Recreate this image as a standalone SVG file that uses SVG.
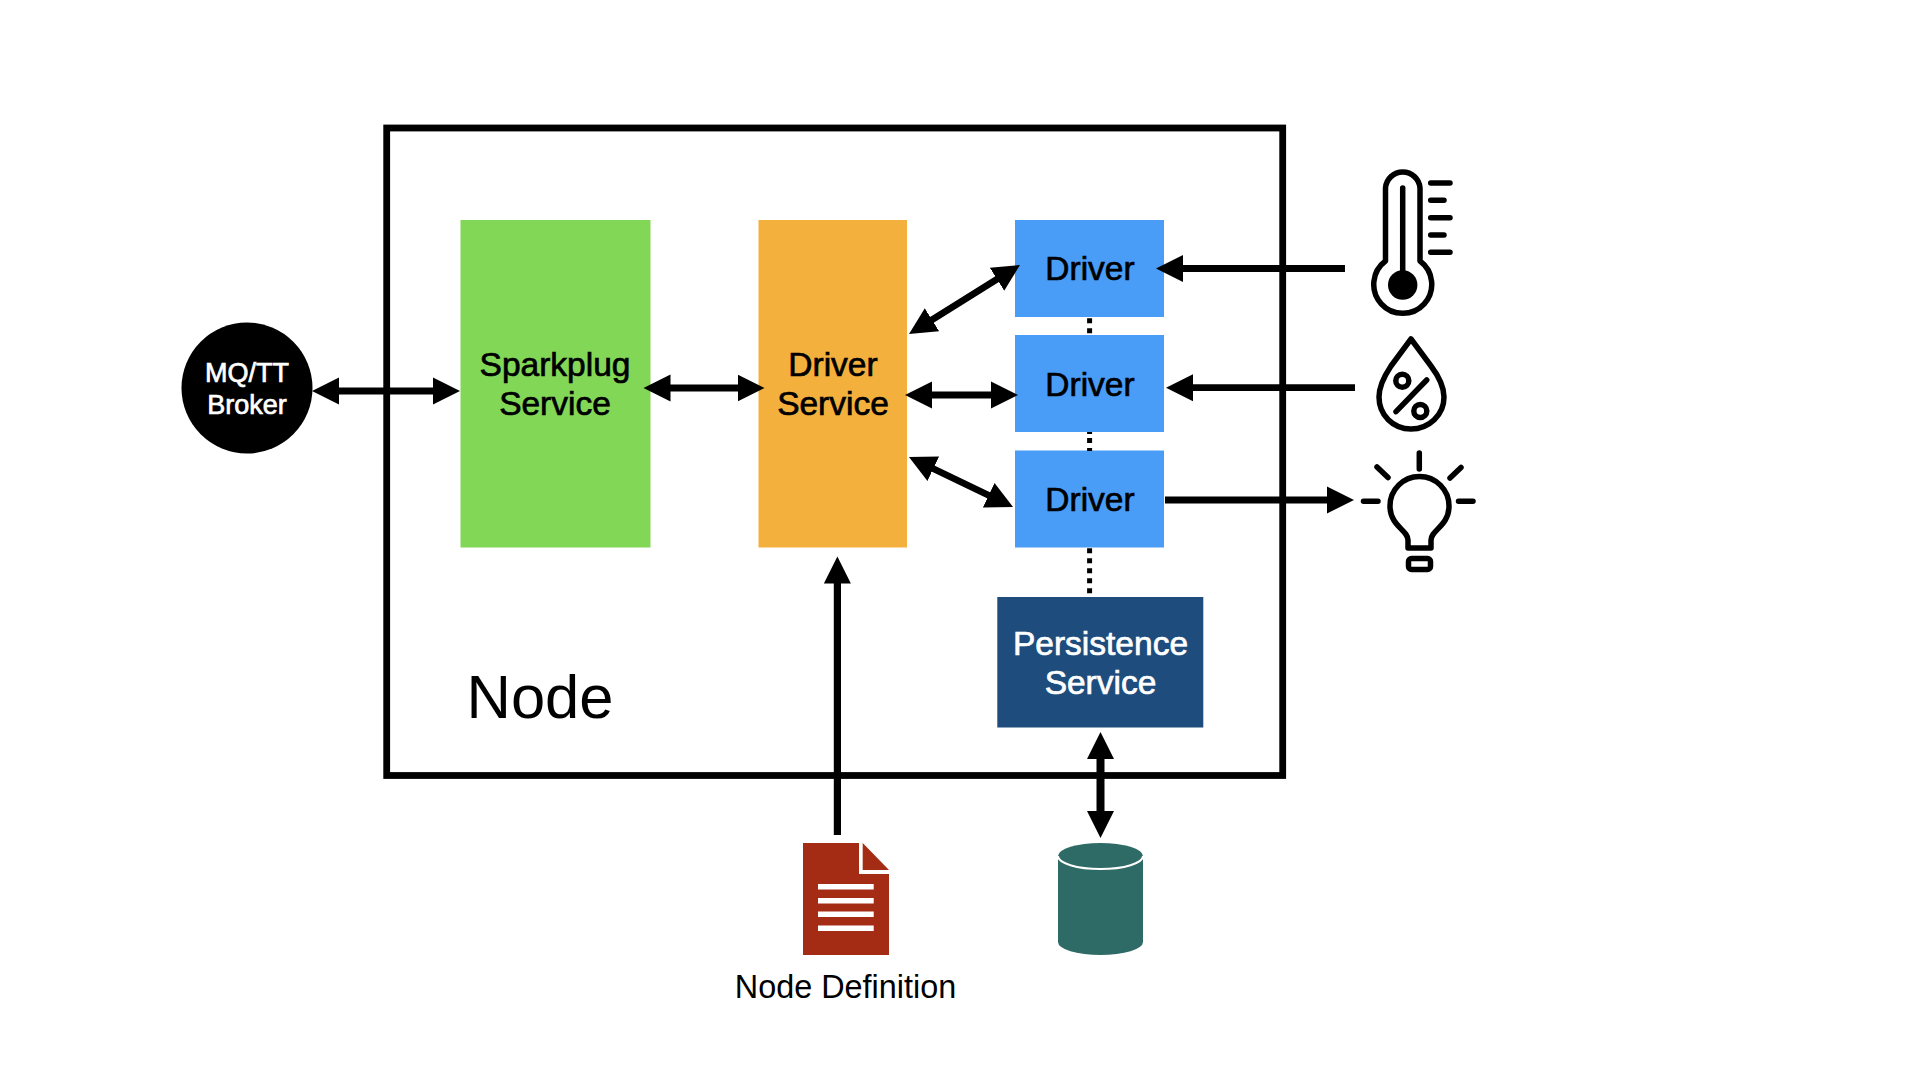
<svg xmlns="http://www.w3.org/2000/svg" width="1920" height="1080" viewBox="0 0 1920 1080">
<style>
text{font-family:"Liberation Sans",Arial,sans-serif;text-anchor:middle;fill:#000}
.lbl{font-size:33.5px;stroke:#000;stroke-width:.7px}
.w{fill:#fff;stroke:#fff}
.arr{stroke:#000;stroke-width:6.8;fill:none}
.ico{fill:none;stroke:#000;stroke-width:5.5;stroke-linecap:round;stroke-linejoin:round}
.drv{fill:#499DF7}
.wl{fill:#fff}
</style>
<defs>
<marker id="ah" markerUnits="userSpaceOnUse" markerWidth="28" markerHeight="28" viewBox="0 0 28 28" refX="1" refY="14" orient="auto-start-reverse"><path d="M0 .5L27 14L0 27.5Z" fill="#000"/></marker>
</defs>
<rect width="1920" height="1080" fill="#fff"/>
<g id="node-frame"><rect x="386.7" y="128" width="896" height="647.5" fill="none" stroke="#000" stroke-width="6.8"/><text x="540" y="718" font-size="61.5">Node</text></g>
<g id="mqtt-broker"><circle cx="247" cy="388" r="65.5" fill="#000"/><text class="lbl w" x="247" y="382" style="font-size:27px">MQ/TT</text><text class="lbl w" x="247" y="414" style="font-size:27px">Broker</text></g>
<g id="sparkplug-service"><rect x="460.5" y="220" width="190" height="327.5" fill="#83D757"/><text class="lbl" x="555" y="375.5">Sparkplug</text><text class="lbl" x="555" y="415">Service</text></g>
<g id="driver-service"><rect x="758.5" y="220" width="148.5" height="327.5" fill="#F3B03D"/><text class="lbl" x="833" y="375.5">Driver</text><text class="lbl" x="833" y="415">Service</text></g>
<g id="driver-1"><rect class="drv" x="1015" y="220" width="149" height="97"/><text class="lbl" x="1090" y="280">Driver</text></g>
<g id="driver-2"><rect class="drv" x="1015" y="335" width="149" height="97"/><text class="lbl" x="1090" y="395.5">Driver</text></g>
<g id="driver-3"><rect class="drv" x="1015" y="450.5" width="149" height="97"/><text class="lbl" x="1090" y="510.5">Driver</text></g>
<g id="persistence-service"><rect x="997.3" y="597" width="206" height="130.5" fill="#1D4C7D"/><text class="lbl w" x="1100.5" y="654.5">Persistence</text><text class="lbl w" x="1100.5" y="693.5">Service</text></g>
<g id="thermometer"><path class="ico" d="M1385.5 261V188A17.3 17.3 0 0 1 1420 188V261A29 29 0 1 1 1385.5 261Z"/><path class="ico" d="M1402.7 188V285M1430.7 183H1450M1430.7 200.3H1444M1430.7 217.7H1450M1430.7 235H1444M1430.7 252.3H1450"/><circle cx="1402.7" cy="285" r="14.7" fill="#000"/></g>
<g id="humidity"><path class="ico" d="M1411 339L1431 366C1440 378 1444 388 1444 397C1444 415 1429 429 1411 429C1393 429 1379 415 1379 397C1379 388 1383 378 1391 366Z"/><path class="ico" d="M1396 411.7L1426.7 380"/><circle class="ico" cx="1402.3" cy="380.7" r="6.5"/><circle class="ico" cx="1420.3" cy="411" r="6.5"/></g>
<g id="bulb"><path class="ico" d="M1408 548V540C1408 530 1390 526 1390 506A29.5 29.5 0 0 1 1449 506C1449 526 1431 530 1431 540V548Z"/><rect class="ico" x="1408.5" y="558.5" width="22" height="11" rx="3"/><path class="ico" d="M1419.3 453V469M1377 467L1388 477.5M1461 467.5L1450 478M1363.5 501.3H1378M1458.5 501.3H1473"/></g>
<g id="node-definition"><path d="M803 843H859V874H889V955H803Z" fill="#A52C14"/><path d="M862.7 843L889 870H862.7Z" fill="#A52C14"/><rect class="wl" x="818" y="884" width="55.7" height="5.5"/><rect class="wl" x="818" y="898" width="55.7" height="5.5"/><rect class="wl" x="818" y="911.5" width="55.7" height="5.5"/><rect class="wl" x="818" y="925.5" width="55.7" height="5.5"/><text x="845.5" y="997.5" font-size="32.4">Node Definition</text></g>
<g id="database"><path d="M1058 856A42.5 13 0 0 1 1143 856V942A42.5 13 0 0 1 1058 942Z" fill="#2F6B66"/><path d="M1058 856A42.5 13 0 0 0 1143 856" fill="none" stroke="#fff" stroke-width="2"/></g>
<g id="connectors">
<path class="arr" d="M338 391H434" marker-start="url(#ah)" marker-end="url(#ah)"/>
<path class="arr" d="M669.5 388H738.5" marker-start="url(#ah)" marker-end="url(#ah)"/>
<path class="arr" d="M931 395H992" marker-start="url(#ah)" marker-end="url(#ah)"/>
<path class="arr" d="M931.1 320.3L997.9 278.7" marker-start="url(#ah)" marker-end="url(#ah)"/>
<path class="arr" d="M932.4 468.3L989.6 495.7" marker-start="url(#ah)" marker-end="url(#ah)"/>
<path class="arr" d="M1345 268.5H1182" marker-end="url(#ah)"/>
<path class="arr" d="M1355 387.7H1192" marker-end="url(#ah)"/>
<path class="arr" d="M1165 500H1328" marker-end="url(#ah)"/>
<path class="arr" d="M837.4 835V582.5" marker-end="url(#ah)" style="stroke-width:7.2"/>
<path class="arr" d="M1100.5 758V812" marker-start="url(#ah)" marker-end="url(#ah)" style="stroke-width:8"/>
<path d="M1089.6 318.3V334M1089.6 432V434M1089.6 438V451M1089.6 548.3V595" fill="none" stroke="#000" stroke-width="5" stroke-dasharray="5 5"/>
</g>
</svg>
